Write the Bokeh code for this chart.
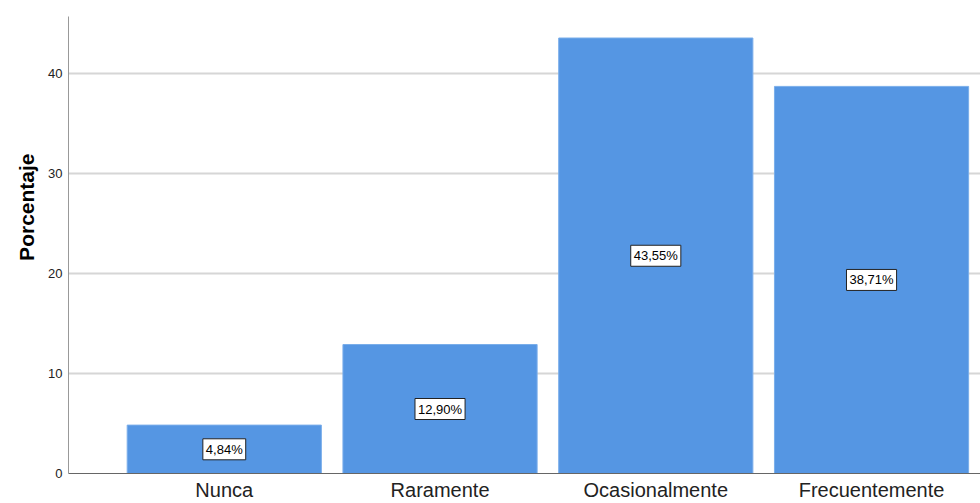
from bokeh.plotting import figure
from bokeh.models import Range1d, FixedTicker, ColumnDataSource, Title
from bokeh.core.properties import value
from bokeh.embed import file_html
from bokeh.resources import INLINE

categories = ["Nunca", "Raramente", "Ocasionalmente", "Frecuentemente"]
percentages = [4.84, 12.90, 43.55, 38.71]
y_ticks = [0, 10, 20, 30, 40]

xs = list(range(len(categories)))
src = ColumnDataSource(dict(
    x=xs,
    top=percentages,
    mid=[v / 2 for v in percentages],
    lbl=[("%.2f%%" % v).replace(".", ",") for v in percentages],
))

p = figure(width=980, height=503, output_backend="svg", toolbar_location=None,
           x_range=Range1d(-0.722, 3.505), y_range=Range1d(0, 45.7),
           min_border_left=68, min_border_top=16, min_border_bottom=10, min_border_right=0)
p.outline_line_color = None
p.background_fill_color = "white"

p.vbar(x="x", top="top", width=0.9, source=src, fill_color="#5596e3",
       line_color="#7aaeea", line_width=1)

p.text(x="x", y="mid", text="lbl", source=src, text_align="center",
       text_baseline="middle", text_font=value("Liberation Sans"), text_font_size="13px",
       text_color="black", background_fill_color="white",
       border_line_color="#222222", border_line_width=1, padding=3)

p.xaxis.ticker = FixedTicker(ticks=xs)
p.xaxis.major_label_overrides = {i: c for i, c in enumerate(categories)}
p.xaxis.major_tick_line_color = None
p.xaxis.major_tick_out = 0
p.xaxis.major_tick_in = 0
p.xaxis.minor_tick_line_color = None
p.xaxis.axis_line_color = "#666666"
p.xaxis.major_label_text_font = "Liberation Sans"
p.xaxis.major_label_text_font_size = "20px"
p.xaxis.major_label_text_color = "#222222"
p.xaxis.major_label_standoff = 5
p.xgrid.grid_line_color = None

p.yaxis.ticker = FixedTicker(ticks=y_ticks)
p.yaxis.major_tick_line_color = None
p.yaxis.major_tick_out = 0
p.yaxis.major_tick_in = 0
p.yaxis.minor_tick_line_color = None
p.yaxis.axis_line_color = "#999999"
p.yaxis.major_label_text_font = "Liberation Sans"
p.yaxis.major_label_text_font_size = "13px"
p.yaxis.major_label_text_color = "#222222"
p.yaxis.major_label_standoff = 6
p.ygrid.grid_line_color = "#d6d6d6"
p.ygrid.grid_line_width = 2

ytitle = Title(text="Porcentaje", align="right", offset=137, standoff=16,
               text_font="Liberation Sans", text_font_style="bold",
               text_font_size="21px", text_color="black")
p.add_layout(ytitle, "left")

open("out.html", "w").write(file_html(p, INLINE))
